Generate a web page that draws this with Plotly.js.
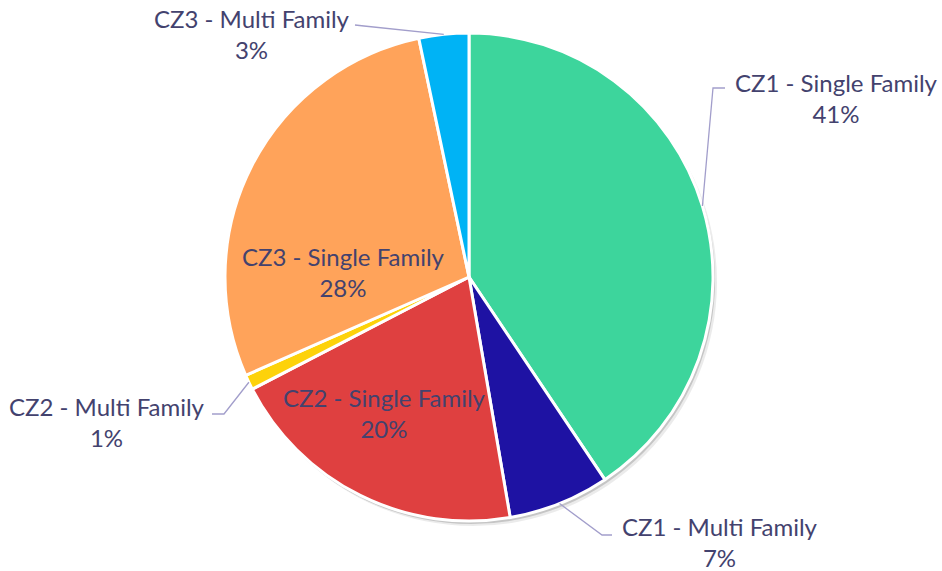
<!DOCTYPE html>
<html>
<head>
<meta charset="utf-8">
<script src="https://cdn.plot.ly/plotly-3.0.1.min.js"></script>
<style>html,body{margin:0;padding:0;background:#fff;}#chart{width:942px;height:571px;}</style>
</head>
<body>
<div id="chart"></div>
<script>
// ---- data ----
const labels = ['CZ1 - Single Family', 'CZ1 - Multi Family', 'CZ2 - Single Family', 'CZ2 - Multi Family', 'CZ3 - Single Family', 'CZ3 - Multi Family'];
const values = [40.6, 6.7, 20.1, 1.0, 28.3, 3.3];
const colors = ['#3DD59C', '#1E12A3', '#DF4040', '#FDD20A', '#FFA35A', '#00B3F5'];

// ---- layout constants (pixels) ----
const W = 942, H = 571;
const CX = 469, CY = 277, R = 244;
const TEXT_COLOR = '#43426E';
const LINE_COLOR = '#A29ECB';
const FONT = 'Lato, "Open Sans", sans-serif';
const FONT_SIZE = 24;
// label centers and leader-line elbows/ends (null = inside label, no leader)
const labelPos = [
  {x: 836, y: 98,  elbow: [713, 88],  end: [725, 88]},
  {x: 720, y: 542, elbow: [602, 535], end: [612, 535]},
  {x: 384, y: 413, elbow: null},
  {x: 107, y: 422, elbow: [224, 414], end: [212, 414]},
  {x: 343, y: 272, elbow: null},
  {x: 252, y: 34,  elbow: [364, 26],  end: [355, 25]}
];

const px = x => x / W;
const py = y => 1 - y / H;
const total = values.reduce((a, b) => a + b, 0);

function domainFor(cx, cy) {
  return {x: [px(cx - R), px(cx + R)], y: [py(cy + R), py(cy - R)]};
}

const shadow = {
  type: 'pie', values: [1], labels: ['shadow'], sort: false,
  marker: {colors: ['rgba(0,0,0,0.16)'], line: {width: 0}},
  textinfo: 'none', hoverinfo: 'skip', showlegend: false,
  domain: domainFor(CX + 2, CY + 3)
};
const shadow2 = {
  type: 'pie', values: [1], labels: ['shadow2'], sort: false,
  marker: {colors: ['rgba(0,0,0,0.08)'], line: {width: 0}},
  textinfo: 'none', hoverinfo: 'skip', showlegend: false,
  domain: domainFor(CX + 4, CY + 5)
};

const pie = {
  type: 'pie', labels: labels, values: values, sort: false,
  direction: 'clockwise', rotation: 0,
  marker: {colors: colors, line: {color: '#ffffff', width: 3}},
  textinfo: 'none', hoverinfo: 'label+percent', showlegend: false,
  domain: domainFor(CX, CY)
};

const annotations = [];
const shapes = [];
let cum = 0;
values.forEach((v, i) => {
  const mid = (cum + v / 2) / total * 2 * Math.PI;
  cum += v;
  const pct = Math.round(v / total * 100);
  const p = labelPos[i];
  annotations.push({
    xref: 'paper', yref: 'paper', x: px(p.x), y: py(p.y),
    xanchor: 'center', yanchor: 'middle', showarrow: false, align: 'center',
    text: labels[i] + '<br>' + pct + '%',
    font: {family: FONT, size: FONT_SIZE, color: TEXT_COLOR}
  });
  if (p.elbow) {
    const ex = CX + R * Math.sin(mid), ey = CY - R * Math.cos(mid);
    shapes.push({
      type: 'path', xref: 'paper', yref: 'paper',
      path: 'M ' + px(ex) + ' ' + py(ey) + ' L ' + px(p.elbow[0]) + ' ' + py(p.elbow[1]) + ' L ' + px(p.end[0]) + ' ' + py(p.end[1]),
      line: {color: LINE_COLOR, width: 1.3}
    });
  }
});

const layout = {
  width: W, height: H,
  margin: {l: 0, r: 0, t: 0, b: 0},
  paper_bgcolor: '#ffffff', plot_bgcolor: '#ffffff',
  showlegend: false,
  annotations: annotations, shapes: shapes
};

Plotly.newPlot('chart', [shadow2, shadow, pie], layout, {displayModeBar: false, staticPlot: true});
</script>
</body>
</html>
